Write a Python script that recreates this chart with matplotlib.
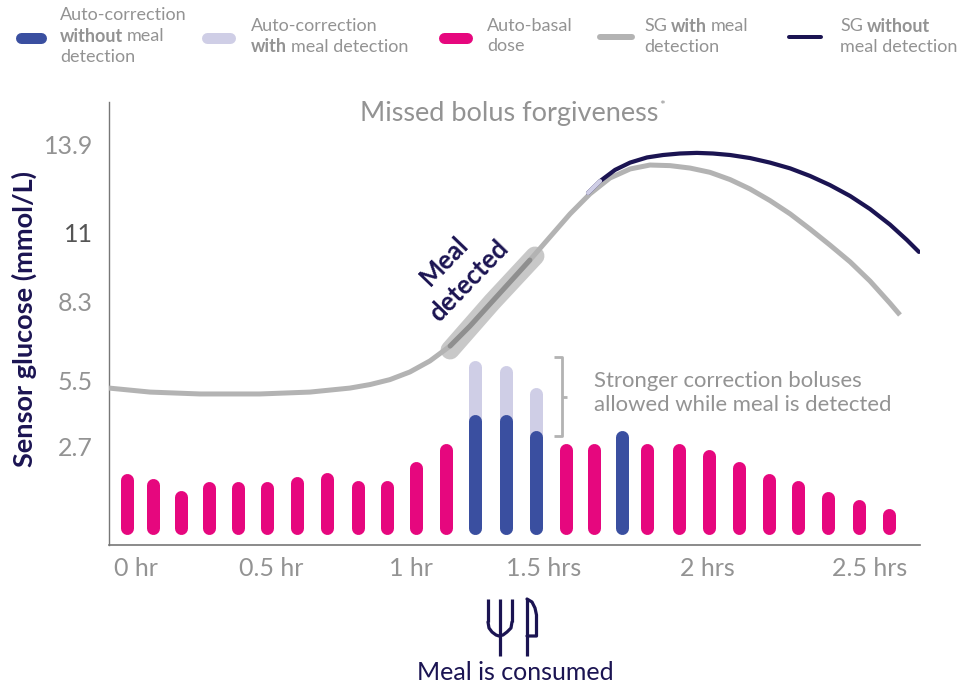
import numpy as np
import matplotlib
matplotlib.use("Agg")
import matplotlib.pyplot as plt
from matplotlib.lines import Line2D

W, H = 974, 686
plt.rcParams['font.family'] = ['Lato', 'DejaVu Sans']

# Data -------------------------------------------------------------
basal_hours = [-0.034, 0.063, 0.166, 0.270, 0.378, 0.485, 0.593, 0.700, 0.811, 0.914, 1.019, 1.132,
               1.567, 1.653, 1.816, 1.914, 2.006, 2.098, 2.190, 2.279, 2.371, 2.466, 2.558]
basal_dose = [0.61, 0.56, 0.44, 0.53, 0.53, 0.53, 0.58, 0.62, 0.54, 0.54, 0.73, 0.91,
              0.91, 0.91, 0.91, 0.91, 0.85, 0.73, 0.61, 0.54, 0.43, 0.35, 0.26]
corr_hours = [1.241, 1.357, 1.470, 1.739]
corr_without = [1.20, 1.20, 1.04, 1.04]
corr_with_hours = [1.241, 1.357, 1.470]
corr_with = [1.74, 1.69, 1.47]

sg_with_hours = [-0.100, 0.052, 0.237, 0.459, 0.639, 0.782, 0.854, 0.925, 0.996, 1.071, 1.147, 1.222,
                 1.297, 1.372, 1.447, 1.518, 1.580, 1.641, 1.702, 1.764, 1.825, 1.887, 1.948, 2.009,
                 2.071, 2.132, 2.193, 2.255, 2.316, 2.377, 2.439, 2.500, 2.561, 2.592]
sg_with = [5.20, 5.03, 4.95, 4.95, 5.03, 5.20, 5.35, 5.55, 5.82, 6.21, 6.74, 7.45,
           8.23, 9.08, 9.94, 10.84, 11.63, 12.29, 12.81, 13.11, 13.24, 13.22, 13.14, 13.00,
           12.76, 12.45, 12.07, 11.63, 11.13, 10.53, 9.87, 9.12, 8.26, 7.84]
sg_without_hours = [1.635, 1.672, 1.718, 1.764, 1.816, 1.865, 1.917, 1.969, 2.018, 2.071, 2.132, 2.193,
                    2.255, 2.316, 2.377, 2.439, 2.500, 2.561, 2.613, 2.650]
sg_without = [12.32, 12.71, 13.08, 13.32, 13.49, 13.57, 13.62, 13.64, 13.62, 13.57, 13.47, 13.32,
              13.13, 12.88, 12.58, 12.22, 11.79, 11.28, 10.73, 10.26]
meal_hours = [1.147, 1.305, 1.466]
meal_sg = [6.60, 8.30, 10.10]

x_ticks = [0, 0.5, 1, 1.5, 2, 2.5]
x_labels = ['0 hr', '0.5 hr', '1 hr', '1.5 hrs', '2 hrs', '2.5 hrs']
y_ticks = [2.7, 5.5, 8.3, 11, 13.9]
y_labels = ['2.7', '5.5', '8.3', '11', '13.9']

# Colours ----------------------------------------------------------
PINK, BLUE, LIGHT, NAVY = '#e6077e', '#3a4fa0', '#cfcee6', '#1b1452'
GRAY, TXT = '#b3b3b3', '#939393'

# The source chart's axes are not evenly spaced: piecewise scales
x_v = [-1, 0, 0.5, 1, 1.5, 2, 2.5, 3.5]
x_p = [-134, 136, 271, 411, 544, 707, 870, 1196]
y_v = [-5, 0, 2.7, 5.5, 8.3, 11, 13.9, 15.32, 25]
y_p = [-724, -544, -447, -381, -302, -233, -145, -102, 190]

def fx(v): return np.interp(v, x_v, x_p)
def ix(v): return np.interp(v, x_p, x_v)
def fy(v): return np.interp(v, y_v, y_p)
def iy(v): return np.interp(v, y_p, y_v)

fig = plt.figure(figsize=(W / 100, H / 100), dpi=100)
L, R, T, B = 109, 920, 102, 545
ax = fig.add_axes([L / W, 1 - B / H, (R - L) / W, (B - T) / H])
ax.set_xscale('function', functions=(fx, ix))
ax.set_yscale('function', functions=(fy, iy))
ax.set_xlim(ix(L), ix(R))
ax.set_ylim(iy(-B), iy(-T))
ax.patch.set_alpha(0)

for s in ('top', 'right'):
    ax.spines[s].set_visible(False)
ax.spines['left'].set_color('#777777')
ax.spines['bottom'].set_color('#777777')
ax.spines['left'].set_linewidth(1.0)
ax.spines['bottom'].set_linewidth(1.2)

ax.set_xticks(x_ticks, x_labels)
ax.set_yticks(y_ticks, y_labels)
ax.xaxis.set_minor_locator(plt.NullLocator())
ax.yaxis.set_minor_locator(plt.NullLocator())
ax.tick_params(axis='both', length=0, labelsize=18, labelcolor=TXT)
ax.tick_params(axis='x', pad=9)
ax.tick_params(axis='y', pad=11.5)
for lab in ax.get_yticklabels():
    if lab.get_text() == '11':
        lab.set_color('#555555')
ax.set_ylabel('Sensor glucose (mmol/L)', fontsize=19.5, color=NAVY, fontweight='bold', va='center')
ax.yaxis.set_label_coords((24 - L) / (R - L), (B - 319) / (B - T))

# Bars on a twin axis (dose units)
ax2 = ax.twinx()
ax2.set_ylim(-0.11, 4.32)
ax2.axis('off')
BAR_PX = 13
cap = (BAR_PX / 2) / ((B - T) / 4.43)
lw = BAR_PX * 72 / 100
def bars(xs, tops, color, z):
    ax2.vlines(xs, cap, np.asarray(tops) - cap, colors=color, linewidth=lw, capstyle='round', zorder=z)
bars(corr_with_hours, corr_with, LIGHT, 2)
bars(corr_hours, corr_without, BLUE, 3)
bars(basal_hours, basal_dose, PINK, 3)

# Curves
ax.set_zorder(ax2.get_zorder() + 1)
ax.plot(meal_hours, meal_sg, color='#c8c8c8', lw=19 * .72, solid_capstyle='round', zorder=2)
ax.plot(sg_with_hours, sg_with, color=GRAY, lw=5 * .72, solid_capstyle='butt', zorder=3)
ax.plot(sg_with_hours[10:15], sg_with[10:15], color='#8f8f8f', lw=5 * .72, solid_capstyle='round', zorder=4)
ax.plot(sg_without_hours, sg_without, color=NAVY, lw=4.2 * .72, solid_capstyle='round', zorder=5)
ax.plot(sg_without_hours[:2], sg_without[:2], color=LIGHT, lw=4.2 * .72, solid_capstyle='round', zorder=6)

# Figure-level annotation helpers (pixel placement of furniture)
def fpt(x, y): return x / W, 1 - y / H
def text(x, y, s, **kw):
    kw.setdefault('va', 'center'); kw.setdefault('ha', 'left')
    kw.setdefault('color', TXT)
    return fig.text(*fpt(x, y), s, **kw)
def line(xs, ys, color, wpx, cap='round', join='round'):
    fig.add_artist(Line2D([x / W for x in xs], [1 - y / H for y in ys], color=color, lw=wpx * .72,
                          solid_capstyle=cap, solid_joinstyle=join))
rend = fig.canvas.get_renderer()
def rich(x, y, parts, size=13):
    cur = x
    for s, weight in parts:
        t = text(cur, y, s, fontsize=size, fontweight=weight)
        cur = t.get_window_extent(rend).x1 + 4

# Title
t = text(360, 113, 'Missed bolus forgiveness', fontsize=19.5)
text(t.get_window_extent(rend).x1 + 1, 106, '*', fontsize=10)

# Legend
line([21, 41], [38, 38], BLUE, 11)
line([207, 230], [38, 38], LIGHT, 11)
line([444, 467], [38, 38], PINK, 11)
line([600, 632], [37, 37], GRAY, 6)
line([789, 821], [37, 37], NAVY, 4)
rich(60, 15, [('Auto-correction', 'normal')])
rich(60, 36, [('without', 'bold'), ('meal', 'normal')])
rich(60, 57, [('detection', 'normal')])
rich(251, 26, [('Auto-correction', 'normal')])
rich(251, 47, [('with', 'bold'), ('meal detection', 'normal')])
rich(487, 26, [('Auto-basal', 'normal')])
rich(487, 46, [('dose', 'normal')])
rich(644, 26, [('SG', 'normal'), ('with', 'bold'), ('meal', 'normal')])
rich(644, 47, [('detection', 'normal')])
rich(840, 26, [('SG', 'normal'), ('without', 'bold')])
rich(840, 47, [('meal detection', 'normal')])

# Annotations
text(444, 261, 'Meal', fontsize=18.5, color=NAVY, fontweight='bold', rotation=46, ha='center', rotation_mode='anchor')
text(469, 281, 'detected', fontsize=18.5, color=NAVY, fontweight='bold', rotation=46, ha='center', rotation_mode='anchor')
line([554, 562, 562, 554], [357, 357, 436, 436], GRAY, 2.8, cap='butt')
line([562, 567], [397, 397], GRAY, 2.8, cap='butt')
text(594, 381, 'Stronger correction boluses', fontsize=15.9)
text(594, 405, 'allowed while meal is detected', fontsize=15.9)

# Fork and knife icon
IW = 3.2
line([488, 488], [599, 622], NAVY, IW, cap='butt')
line([488, 489, 492, 496, 499, 503, 507, 511, 512], [622, 628, 632, 635, 636, 635, 632, 628, 622], NAVY, IW)
line([512, 512], [622, 599], NAVY, IW, cap='butt')
line([500, 500], [599, 656], NAVY, IW, cap='butt')
line([527, 527], [599, 656], NAVY, IW, cap='butt')
line([527, 532, 535, 536.5, 536.5, 527], [599, 602, 608, 615, 636, 636], NAVY, IW)
text(515, 672, 'Meal is consumed', fontsize=18, color=NAVY, ha='center')

fig.savefig('out.png', dpi=100)
